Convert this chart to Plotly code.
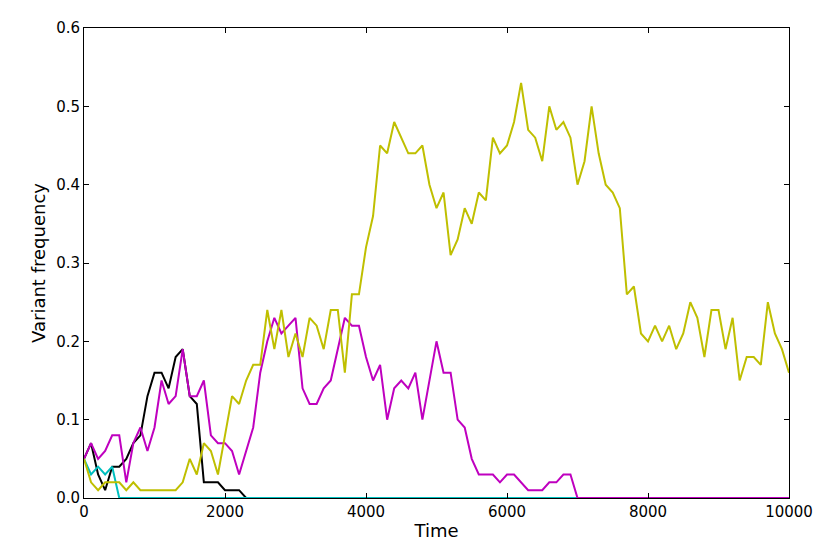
import plotly.graph_objects as go

# time points, one every 100 generations
time = list(range(0, 10001, 100))

freq_black = [0.05, 0.07, 0.03, 0.01, 0.04, 0.04, 0.05, 0.07, 0.08, 0.13,
              0.16, 0.16, 0.14, 0.18, 0.19, 0.13, 0.12, 0.02, 0.02, 0.02,
              0.01, 0.01, 0.01] + [0.0] * 78

freq_cyan = [0.05, 0.03, 0.04, 0.03, 0.04] + [0.0] * 96

freq_magenta = [0.05, 0.07, 0.05, 0.06, 0.08, 0.08, 0.02, 0.07, 0.09, 0.06,
                0.09, 0.15, 0.12, 0.13, 0.19, 0.13, 0.13, 0.15, 0.08, 0.07,
                0.07, 0.06, 0.03, 0.06, 0.09, 0.16, 0.20, 0.23, 0.21, 0.22,
                0.23, 0.14, 0.12, 0.12, 0.14, 0.15, 0.19, 0.23, 0.22, 0.22,
                0.18, 0.15, 0.17, 0.10, 0.14, 0.15, 0.14, 0.16, 0.10, 0.15,
                0.20, 0.16, 0.16, 0.10, 0.09, 0.05, 0.03, 0.03, 0.03, 0.02,
                0.03, 0.03, 0.02, 0.01, 0.01, 0.01, 0.02, 0.02, 0.03, 0.03] + [0.0] * 31

freq_olive = [0.05, 0.02, 0.01, 0.02, 0.02, 0.02, 0.01, 0.02, 0.01, 0.01,
              0.01, 0.01, 0.01, 0.01, 0.02, 0.05, 0.03, 0.07, 0.06, 0.03,
              0.08, 0.13, 0.12, 0.15, 0.17, 0.17, 0.24, 0.19, 0.24, 0.18,
              0.21, 0.18, 0.23, 0.22, 0.19, 0.24, 0.24, 0.16, 0.26, 0.26,
              0.32, 0.36, 0.45, 0.44, 0.48, 0.46, 0.44, 0.44, 0.45, 0.40,
              0.37, 0.39, 0.31, 0.33, 0.37, 0.35, 0.39, 0.38, 0.46, 0.44,
              0.45, 0.48, 0.53, 0.47, 0.46, 0.43, 0.50, 0.47, 0.48, 0.46,
              0.40, 0.43, 0.50, 0.44, 0.40, 0.39, 0.37, 0.26, 0.27, 0.21,
              0.20, 0.22, 0.20, 0.22, 0.19, 0.21, 0.25, 0.23, 0.18, 0.24,
              0.24, 0.19, 0.23, 0.15, 0.18, 0.18, 0.17, 0.25, 0.21, 0.19,
              0.16]

series = [(freq_black, '#000000'), (freq_cyan, '#00bfbf'),
          (freq_magenta, '#bf00bf'), (freq_olive, '#bfbf00')]

fig = go.Figure()
for vals, col in series:
    fig.add_trace(go.Scatter(x=time, y=vals, mode='lines',
                             line=dict(color=col, width=2),
                             showlegend=False))

axis_style = dict(showline=True, linecolor='black', linewidth=1, mirror='ticks',
                  ticks='inside', ticklen=5, tickcolor='black',
                  showgrid=False, zeroline=False, automargin=False,
                  tickfont=dict(family='DejaVu Sans', size=15, color='black'))

# page body has an 8px margin, so the figure is drawn 8px smaller
fig.update_layout(
    width=822, height=546,
    margin=dict(l=76, r=41, t=20, b=56),
    paper_bgcolor='white', plot_bgcolor='white',
    font=dict(family='DejaVu Sans', size=15, color='black'),
    xaxis=dict(range=[0, 10000], tickvals=[0, 2000, 4000, 6000, 8000, 10000],
               tickformat='d', ticklabelstandoff=0,
               title=dict(text='Time', standoff=4), **axis_style),
    yaxis=dict(range=[0, 0.6], dtick=0.1, tickformat='.1f',
               title=dict(text='Variant frequency', standoff=5), **axis_style),
)

fig.write_html("out.html")
